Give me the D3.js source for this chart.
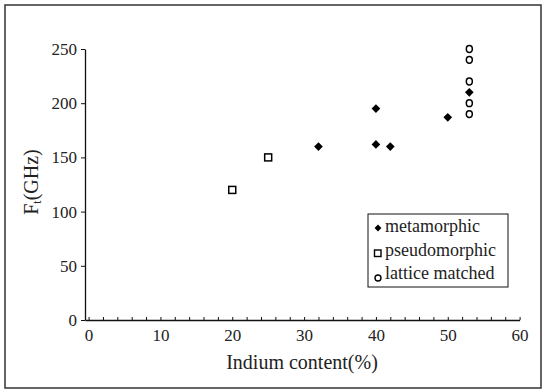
<!DOCTYPE html>
<html>
<head>
<meta charset="utf-8">
<script src="https://cdn.jsdelivr.net/npm/d3@7"></script>
<style>
  body { margin: 0; background: #fff; }
  text { font-family: "Liberation Serif", "DejaVu Serif", serif; fill: #222; }
</style>
</head>
<body>
<script>
// data
const metamorphic = [[32, 160], [40, 195], [40, 162], [42, 160], [50, 187], [53, 210]];
const pseudomorphic = [[20, 120], [25, 150]];
const latticeMatched = [[53, 250], [53, 240], [53, 220], [53, 200], [53, 190]];
const xTicks = [0, 10, 20, 30, 40, 50, 60];
const yTicks = [0, 50, 100, 150, 200, 250];
const legendLabels = ["metamorphic", "pseudomorphic", "lattice matched"];

const width = 545, height = 392;

const svg = d3.select("body").append("svg")
    .attr("width", width)
    .attr("height", height)
    .attr("viewBox", [0, 0, width, height]);

// outer frame
svg.append("rect")
    .attr("x", 5).attr("y", 5)
    .attr("width", 536).attr("height", 383)
    .attr("fill", "none")
    .attr("stroke", "#333")
    .attr("stroke-width", 1.5);

const x = d3.scaleLinear([-0.5, 60], [85, 519.6]);
const y = d3.scaleLinear([0, 250], [320, 49]);

// x axis: small ticks every 2 units pointing up, labels at tens
const xAxis = svg.append("g")
    .attr("transform", `translate(0,${y(0)})`)
    .call(d3.axisBottom(x)
      .tickValues(d3.range(0, 61, 2))
      .tickSizeInner(-3)
      .tickSizeOuter(0)
      .tickPadding(9)
      .tickFormat(d => xTicks.includes(d) ? d : ""));
xAxis.select(".domain").attr("stroke", "#111").attr("stroke-width", 1.3);
xAxis.selectAll(".tick line").attr("stroke", "#111");
xAxis.selectAll(".tick text")
    .attr("font-family", "Liberation Serif")
    .attr("font-size", 17)
    .attr("fill", "#333");

const yAxis = svg.append("g")
    .attr("transform", `translate(${x(-0.5)},0)`)
    .call(d3.axisLeft(y)
      .tickValues(yTicks)
      .tickSizeInner(4)
      .tickSizeOuter(0)
      .tickPadding(4));
yAxis.select(".domain").attr("stroke", "#111").attr("stroke-width", 1.3);
yAxis.selectAll(".tick line").attr("stroke", "#111");
yAxis.selectAll(".tick text")
    .attr("font-family", "Liberation Serif")
    .attr("font-size", 17)
    .attr("fill", "#333");

// axis titles
svg.append("text")
    .attr("x", 302).attr("y", 369)
    .attr("text-anchor", "middle")
    .attr("font-size", 20)
    .text("Indium content(%)");

const yt = svg.append("text")
    .attr("transform", "translate(38,182) rotate(-90)")
    .attr("text-anchor", "middle")
    .attr("font-size", 20);
yt.append("tspan").text("F");
yt.append("tspan").attr("font-size", 12).attr("dy", 3).text("t");
yt.append("tspan").attr("dy", -3).text("(GHz)");

// markers
const diamond = d3.symbol().type(d3.symbolDiamond2).size(48);

svg.append("g").selectAll("path")
  .data(metamorphic)
  .join("path")
    .attr("transform", d => `translate(${x(d[0])},${y(d[1])})`)
    .attr("d", diamond)
    .attr("fill", "#000");

svg.append("g").selectAll("rect")
  .data(pseudomorphic)
  .join("rect")
    .attr("x", d => x(d[0]) - 3.5)
    .attr("y", d => y(d[1]) - 3.5)
    .attr("width", 7).attr("height", 7)
    .attr("fill", "#fff")
    .attr("stroke", "#000")
    .attr("stroke-width", 1.5);

svg.append("g").selectAll("ellipse")
  .data(latticeMatched)
  .join("ellipse")
    .attr("cx", d => x(d[0]))
    .attr("cy", d => y(d[1]))
    .attr("rx", 3)
    .attr("ry", 3.4)
    .attr("fill", "#fff")
    .attr("stroke", "#000")
    .attr("stroke-width", 1.5);

// legend
const lg = svg.append("g").attr("transform", "translate(368,214)");
lg.append("rect")
    .attr("width", 140).attr("height", 73)
    .attr("fill", "#fff")
    .attr("stroke", "#111")
    .attr("stroke-width", 1);

const rows = lg.selectAll("g")
  .data(legendLabels)
  .join("g")
    .attr("transform", (d, i) => `translate(0,${13 + i * 23.5})`);

rows.append("text")
    .attr("x", 17).attr("y", 5)
    .attr("font-size", 18)
    .text(d => d);

rows.filter((d, i) => i === 0).append("path")
    .attr("transform", "translate(10,1)")
    .attr("d", d3.symbol().type(d3.symbolDiamond2).size(30))
    .attr("fill", "#000");
rows.filter((d, i) => i === 1).append("rect")
    .attr("x", 6.5).attr("y", -0.5)
    .attr("width", 6.5).attr("height", 6.5)
    .attr("fill", "#fff").attr("stroke", "#000").attr("stroke-width", 1.4);
rows.filter((d, i) => i === 2).append("circle")
    .attr("cx", 10).attr("cy", 4)
    .attr("r", 3)
    .attr("fill", "#fff").attr("stroke", "#000").attr("stroke-width", 1.4);
</script>
</body>
</html>
